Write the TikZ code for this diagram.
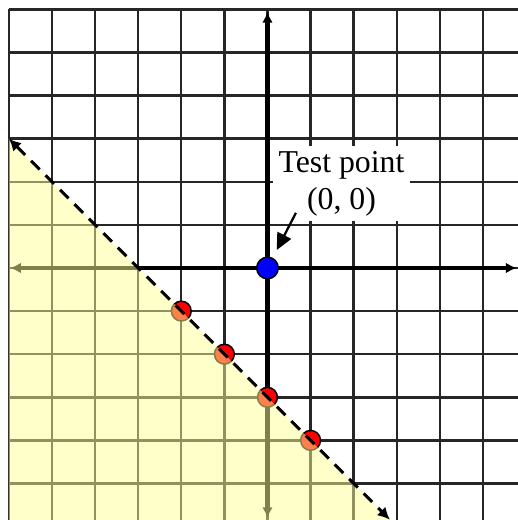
\documentclass[tikz,border=0pt]{standalone}
\usepackage{fontspec}
\setmainfont{Liberation Serif}
\usetikzlibrary{arrows.meta}
\definecolor{shadeyellow}{RGB}{255,255,150}
\begin{document}
\begin{tikzpicture}[x=1cm,y=1cm,
  gridline/.style={draw=black!85, line width=1.6pt},
  axisline/.style={draw=black, line width=2.8pt, {Latex[length=7pt,width=7pt]}-{Latex[length=7pt,width=7pt]}},
  bdline/.style={draw=black, line width=2pt, dash pattern=on 8pt off 5.5pt, {Latex[length=8pt,width=8pt]}-{Latex[length=8pt,width=8pt]}},
  reddot/.style={circle, fill=red, draw=black, line width=1pt, minimum size=0.46cm, inner sep=0pt},
  bluedot/.style={circle, fill=blue, draw=black, line width=1pt, minimum size=0.5cm, inner sep=0pt},
  lab/.style={fill=white, inner sep=0pt, minimum width=3.18cm, minimum height=1.74cm, align=center, font=\fontsize{21}{24.5}\selectfont},
  pointer/.style={draw=black, line width=1.5pt, -{Triangle[length=11pt,width=10pt]}}
]
\useasboundingbox (-6.206,-5.847) rectangle (5.812,6.218);
\fill[white] (-6.206,-5.847) rectangle (5.812,6.218);
\begin{scope}
\clip (-6.206,-5.847) rectangle (5.812,6.218);
\foreach \x in {-6,...,5} \draw[gridline] (\x,-6) -- (\x,6);
\foreach \y in {-5,...,6} \draw[gridline] (-6,\y) -- (6,\y);
\coordinate (xl) at (-5.97,0);
\coordinate (xr) at (5.78,0);
\coordinate (yb) at (0,-5.80);
\coordinate (yt) at (0,5.94);
\draw[axisline] (xl) -- (xr);
\draw[axisline] (yb) -- (yt);
\node[reddot] (p1) at (-2,-1) {};
\node[reddot] (p2) at (-1,-2) {};
\node[reddot] (p3) at (0,-3) {};
\node[reddot] (p4) at (1,-4) {};
\node[bluedot] (o) at (0,0) {};
\fill[shadeyellow, opacity=0.5] (-6,3) -- (2.85,-5.85) -- (-6,-5.85) -- cycle;
\coordinate (la) at (-6,3);
\coordinate (lb) at (2.84,-5.84);
\draw[bdline] (la) -- (lb);
\end{scope}
\node[lab] (t) at (1.717,1.96) {Test point\\(0, 0)};
\coordinate (as) at (0.66,1.28);
\draw[pointer, shorten >=0.2cm] (as) -- (o);
\end{tikzpicture}
\end{document}
